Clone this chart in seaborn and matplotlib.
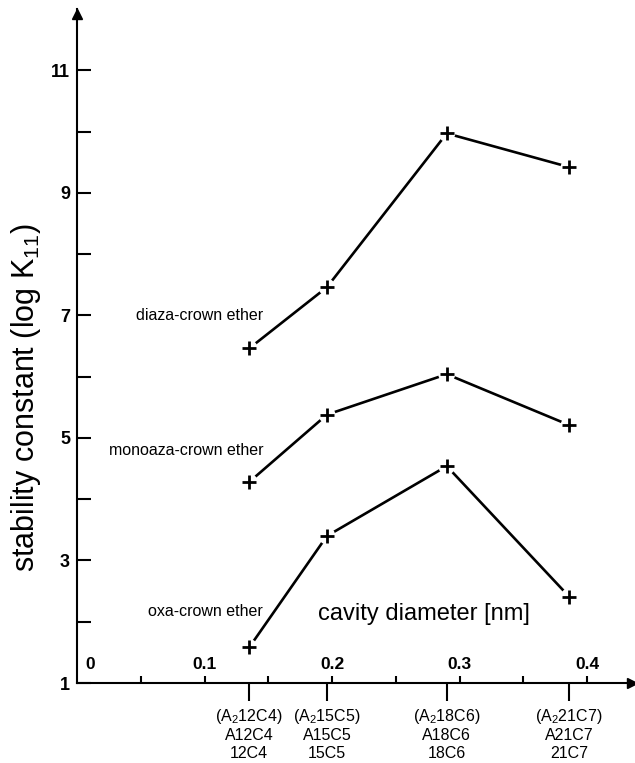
import numpy as np
import pandas as pd
import matplotlib
matplotlib.use("Agg")
import matplotlib.pyplot as plt
import seaborn as sns

# ---- data ----
diameters = [0.135, 0.196, 0.290, 0.386]
compound_labels = ["(A$_2$12C4)\nA12C4\n12C4", "(A$_2$15C5)\nA15C5\n15C5",
                   "(A$_2$18C6)\nA18C6\n18C6", "(A$_2$21C7)\nA21C7\n21C7"]
diaza = [6.46, 7.46, 9.97, 9.42]
monoaza = [4.28, 5.38, 6.04, 5.21]
oxa = [1.58, 3.40, 4.54, 2.41]
series_names = ["diaza-crown ether", "monoaza-crown ether", "oxa-crown ether"]
diam_ticks = [0, 0.1, 0.2, 0.3, 0.4]
diam_tick_labels = ["0", "0.1", "0.2", "0.3", "0.4"]
y_major = [1, 3, 5, 7, 9, 11]
y_minor = [2, 4, 6, 8, 10]

df = pd.DataFrame({
    "diameter": diameters * 3,
    "logK": diaza + monoaza + oxa,
    "series": [s for s in series_names for _ in diameters],
})

sns.set_style("white")
FONT = ["Liberation Sans Narrow", "Liberation Sans", "DejaVu Sans"]
plt.rcParams["font.family"] = FONT
plt.rcParams["mathtext.fontset"] = "custom"
plt.rcParams["mathtext.rm"] = "Liberation Sans"
plt.rcParams["mathtext.it"] = "Liberation Sans:italic"
plt.rcParams["mathtext.bf"] = "Liberation Sans:bold"
for k in ["text.color", "axes.labelcolor", "xtick.color", "ytick.color"]:
    plt.rcParams[k] = "black"

fig = plt.figure(figsize=(6.35, 7.63), dpi=100)
ax = fig.add_axes([0.1213, 0.1048, 0.8734, 0.8834])

sns.lineplot(data=df, x="diameter", y="logK", hue="series", units="series",
             estimator=None, sort=False, palette=["black"] * 3, legend=False,
             linewidth=1.9, ax=ax, zorder=2)
# white halos to create gaps around markers
sns.scatterplot(data=df, x="diameter", y="logK", color="white", s=150,
                edgecolor="none", legend=False, ax=ax, zorder=3)
sns.scatterplot(data=df, x="diameter", y="logK", color="black", marker="+",
                s=90, linewidth=2.0, legend=False, ax=ax, zorder=4)

ax.set_xlim(0, 0.435)
ax.set_ylim(1, 12)

for side in ["top", "right"]:
    ax.spines[side].set_visible(False)
for side in ["left", "bottom"]:
    ax.spines[side].set_linewidth(1.5)
    ax.spines[side].set_color("black")

# arrows
ax.plot(1, 0, ">k", transform=ax.transAxes, clip_on=False, markersize=7)
ax.plot(0, 0.993, "^k", transform=ax.transAxes, clip_on=False, markersize=7)

# y ticks
ax.set_yticks(y_major)
ax.set_yticklabels([str(v) for v in y_major], fontsize=13, fontweight="bold")
ax.set_yticks(y_minor, minor=True)
ax.tick_params(axis="y", which="both", direction="in", length=10, width=1.5,
               pad=5, left=True)

# x ticks: compounds below, diameter scale inside
ax.set_xticks(diameters)
ax.set_xticklabels(compound_labels, fontsize=11.5, linespacing=1.22)
ax.set_xticks(np.arange(0.05, 0.41, 0.05), minor=True)
ax.tick_params(axis="x", which="major", direction="out", length=13, width=1.5,
               pad=4, bottom=True)
ax.tick_params(axis="x", which="minor", direction="in", length=5, width=1.5,
               bottom=True)
for xv, lab in zip(diam_ticks, diam_tick_labels):
    ax.text(xv + (0.01 if xv == 0 else 0), 1.3, lab, ha="center", va="center",
            fontsize=12.5, fontweight="bold")

ax.set_xlabel("")
ax.set_ylabel("stability constant (log K$_{11}$)", fontsize=22)
ax.yaxis.set_label_coords(-0.062, 0.424)

# series labels
label_y = [7.0, 4.8, 2.16]
for name, yv in zip(series_names, label_y):
    ax.text(0.146, yv, name, ha="right", va="center", fontsize=11.5)
ax.text(0.189, 2.12, "cavity diameter [nm]", ha="left", va="center", fontsize=17)

fig.savefig("out.png", dpi=100, facecolor="white")
